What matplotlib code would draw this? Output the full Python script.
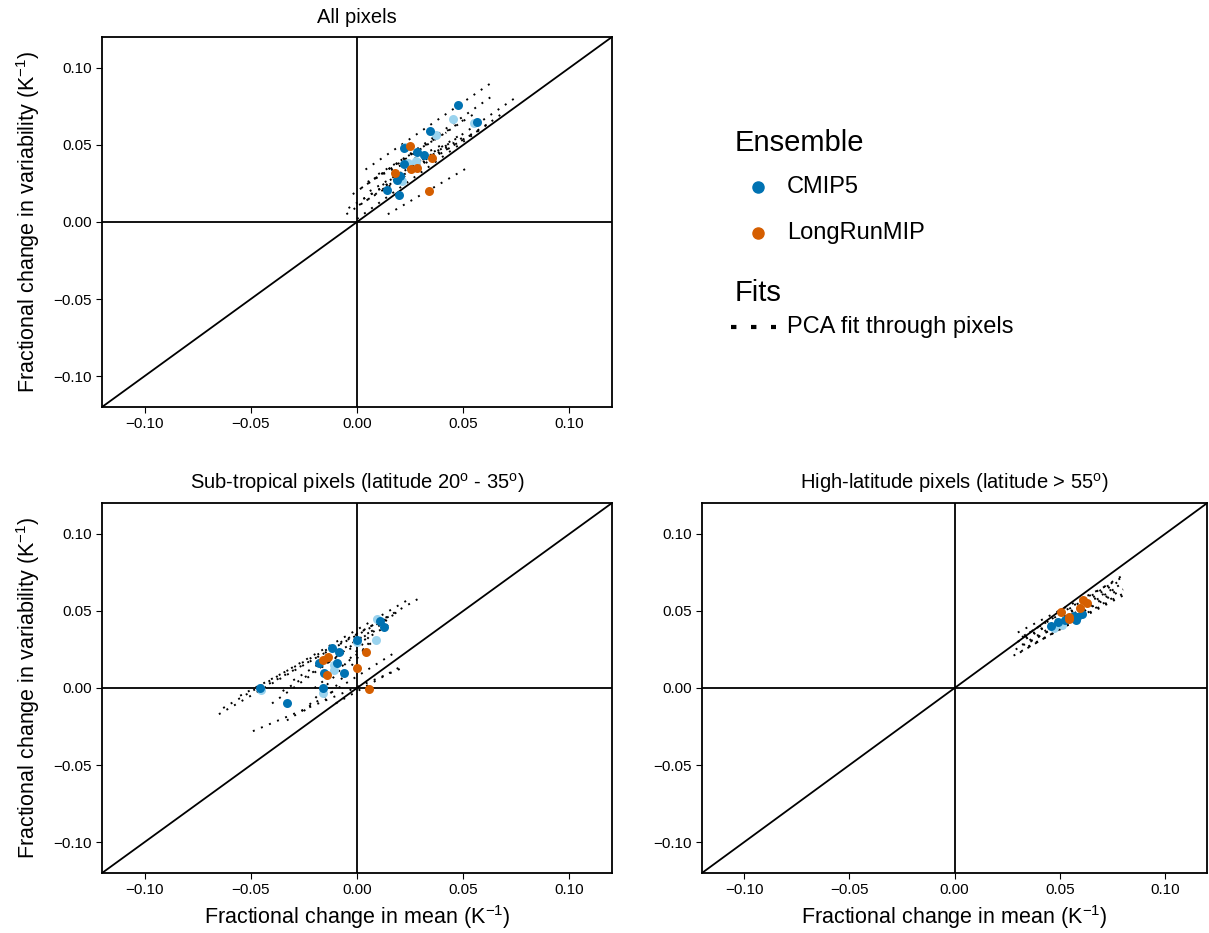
import numpy as np
import matplotlib.pyplot as plt
from matplotlib.lines import Line2D

plt.rcParams['font.family'] = ['Liberation Sans', 'DejaVu Sans']
plt.rcParams['mathtext.default'] = 'regular'

CMIP5_COL = '#0072B2'
LRM_COL = '#D55E00'
LIGHT_COL = '#9AD3EE'

# ---- All pixels ----
all_cmip_x = [0.0475, 0.0564, 0.0343, 0.0223, 0.0281, 0.0314, 0.0219, 0.0204, 0.0188, 0.0142, 0.0196]
all_cmip_y = [0.0757, 0.0650, 0.0588, 0.0480, 0.0454, 0.0436, 0.0375, 0.0296, 0.0274, 0.0208, 0.0175]
all_light_x = [0.0453, 0.0551, 0.0370, 0.0225, 0.0276, 0.0240, 0.0210]
all_light_y = [0.0669, 0.0643, 0.0564, 0.0489, 0.0397, 0.0385, 0.0265]
all_lrm_x = [0.0251, 0.0352, 0.0254, 0.0280, 0.0180, 0.0338]
all_lrm_y = [0.0493, 0.0414, 0.0344, 0.0349, 0.0320, 0.0204]
# PCA fits: start and end of each fitted segment
all_fit_x0 = [0.004, -0.002, -0.005, 0.0145, 0.001, 0.002, 0.003, -0.004, 0.008, 0.000, 0.006, 0.010, 0.005, 0.012]
all_fit_y0 = [0.034, 0.018, 0.005, 0.005, 0.011, 0.022, 0.015, 0.009, 0.028, 0.002, 0.020, 0.031, 0.026, 0.024]
all_fit_x1 = [0.064, 0.065, 0.075, 0.053, 0.062, 0.055, 0.058, 0.050, 0.050, 0.068, 0.045, 0.042, 0.040, 0.048]
all_fit_y1 = [0.091, 0.083, 0.081, 0.036, 0.064, 0.070, 0.060, 0.055, 0.066, 0.070, 0.052, 0.058, 0.050, 0.056]

# ---- Sub-tropical ----
sub_cmip_x = [-0.0456, -0.0330, -0.0158, -0.0180, -0.0155, -0.0117, -0.0084, -0.0096, -0.0062, 0.0002, 0.0106, 0.0128]
sub_cmip_y = [-0.0002, -0.0099, 0.0000, 0.0160, 0.0099, 0.0261, 0.0232, 0.0163, 0.0100, 0.0314, 0.0434, 0.0393]
sub_light_x = [-0.0450, -0.0158, -0.0107, 0.0000, 0.0093, 0.0090, -0.0110]
sub_light_y = [-0.0010, -0.0030, 0.0116, 0.0296, 0.0445, 0.0314, 0.0150]
sub_lrm_x = [-0.0139, -0.0160, -0.0136, 0.0044, -0.0002, 0.0058]
sub_lrm_y = [0.0083, 0.0184, 0.0204, 0.0232, 0.0127, -0.0009]
sub_fit_x0 = [-0.065, -0.063, -0.049, -0.033, -0.055, -0.040, -0.025, -0.020, -0.030, -0.015, -0.010, -0.045, -0.035]
sub_fit_y0 = [-0.017, -0.013, -0.028, -0.021, -0.005, -0.010, -0.015, 0.000, 0.005, -0.008, -0.010, 0.000, -0.002]
sub_fit_x1 = [0.029, 0.025, 0.023, 0.019, 0.020, 0.015, 0.010, 0.012, 0.008, 0.006, 0.022, 0.018, 0.016]
sub_fit_y1 = [0.058, 0.058, 0.014, 0.024, 0.050, 0.045, 0.040, 0.035, 0.038, 0.030, 0.015, 0.048, 0.042]

# ---- High-latitude ----
high_cmip_x = [0.0459, 0.0490, 0.0580, 0.0575, 0.0605, 0.0525, 0.0550, 0.0565]
high_cmip_y = [0.0401, 0.0430, 0.0462, 0.0440, 0.0480, 0.0440, 0.0455, 0.0470]
high_light_x = [0.0470, 0.0510]
high_light_y = [0.0390, 0.0410]
high_lrm_x = [0.0504, 0.0608, 0.0630, 0.0596, 0.0544, 0.0543]
high_lrm_y = [0.0496, 0.0568, 0.0550, 0.0518, 0.0462, 0.0450]
high_fit_x0 = [0.030, 0.030, 0.029, 0.028, 0.032, 0.034, 0.031, 0.035, 0.033, 0.036, 0.032]
high_fit_y0 = [0.036, 0.030, 0.025, 0.021, 0.028, 0.032, 0.023, 0.027, 0.034, 0.030, 0.033]
high_fit_x1 = [0.080, 0.080, 0.080, 0.081, 0.078, 0.079, 0.077, 0.080, 0.075, 0.078, 0.081]
high_fit_y1 = [0.072, 0.068, 0.064, 0.062, 0.066, 0.070, 0.060, 0.060, 0.068, 0.064, 0.074]

LIM = 0.12
TICKS = [-0.10, -0.05, 0.00, 0.05, 0.10]
DOTS = (0, (1, 3.5))


def draw_panel(ax, title, fits, cmip, light, lrm, xlabel=True, ylabel=True):
    ax.plot([-LIM, LIM], [-LIM, LIM], color='black', lw=1.3, zorder=1)
    ax.axhline(0, color='black', lw=1.3, zorder=1)
    ax.axvline(0, color='black', lw=1.3, zorder=1)
    for x0, y0, x1, y1 in zip(*fits):
        ax.plot([x0, x1], [y0, y1], color='black', lw=1.4, linestyle=DOTS, zorder=2)
    ax.scatter(*light, s=42, color=LIGHT_COL, lw=0, zorder=3)
    ax.scatter(*cmip, s=42, color=CMIP5_COL, lw=0, zorder=4)
    ax.scatter(*lrm, s=42, color=LRM_COL, lw=0, zorder=5)
    ax.set_xlim(-LIM, LIM)
    ax.set_ylim(-LIM, LIM)
    ax.set_xticks(TICKS)
    ax.set_yticks(TICKS)
    ax.set_xticklabels([f'{t:.2f}'.replace('-', '\u2212') for t in TICKS])
    ax.set_yticklabels([f'{t:.2f}'.replace('-', '\u2212') for t in TICKS])
    ax.tick_params(labelsize=11, length=4, width=0.8, colors='black')
    for sp in ax.spines.values():
        sp.set_linewidth(1.3)
    ax.set_title(title, fontsize=14.5, pad=10)
    if xlabel:
        ax.set_xlabel('Fractional change in mean (K$^{-1}$)', fontsize=15.5, labelpad=4)
    if ylabel:
        ax.set_ylabel('Fractional change in variability (K$^{-1}$)', fontsize=15.5, labelpad=8)


fig = plt.figure(figsize=(12.09, 9.33), dpi=100)
ax1 = fig.add_axes([0.0844, 0.5638, 0.4218, 0.3966])
ax2 = fig.add_axes([0.0844, 0.0643, 0.4218, 0.3966])
ax3 = fig.add_axes([0.5806, 0.0643, 0.4180, 0.3966])

draw_panel(ax1, 'All pixels',
           (all_fit_x0, all_fit_y0, all_fit_x1, all_fit_y1),
           (all_cmip_x, all_cmip_y), (all_light_x, all_light_y), (all_lrm_x, all_lrm_y),
           xlabel=False)
draw_panel(ax2, 'Sub-tropical pixels (latitude 20$^{o}$ - 35$^{o}$)',
           (sub_fit_x0, sub_fit_y0, sub_fit_x1, sub_fit_y1),
           (sub_cmip_x, sub_cmip_y), (sub_light_x, sub_light_y), (sub_lrm_x, sub_lrm_y))
draw_panel(ax3, 'High-latitude pixels (latitude > 55$^{o}$)',
           (high_fit_x0, high_fit_y0, high_fit_x1, high_fit_y1),
           (high_cmip_x, high_cmip_y), (high_light_x, high_light_y), (high_lrm_x, high_lrm_y),
           ylabel=False)

# legend, laid out by hand in figure pixels
W, H = 1209, 933


def fx(px):
    return px / W


def fy(py):
    return 1 - py / H


fig.text(fx(735), fy(143), 'Ensemble', fontsize=21, va='center')
for py, col, lab in [(187, CMIP5_COL, 'CMIP5'), (233, LRM_COL, 'LongRunMIP')]:
    fig.add_artist(Line2D([fx(758)], [fy(py)], marker='o', ls='none', color=col,
                          markersize=8, transform=fig.transFigure))
    fig.text(fx(787), fy(py), lab, fontsize=17, va='center')
fig.text(fx(735), fy(293), 'Fits', fontsize=21, va='center')
fig.add_artist(Line2D([fx(731), fx(776)], [fy(327), fy(327)], color='black', lw=3,
                      linestyle=(0, (1.3, 3.5)), solid_capstyle='butt',
                      transform=fig.transFigure))
fig.text(fx(787), fy(327), 'PCA fit through pixels', fontsize=17, va='center')

fig.savefig('out.png', dpi=100)
